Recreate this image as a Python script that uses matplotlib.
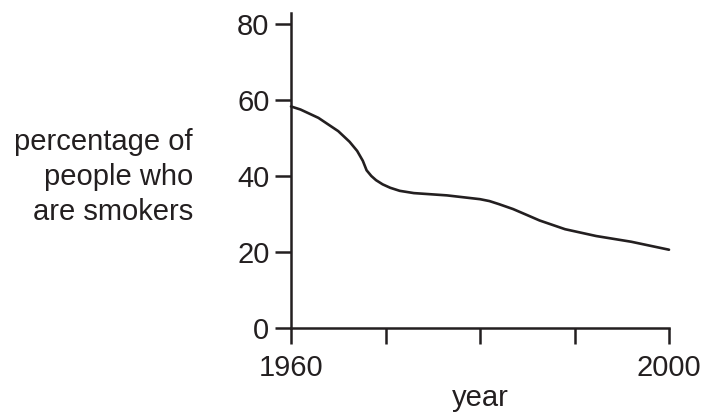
import matplotlib
matplotlib.use("Agg")
import matplotlib.pyplot as plt

years = [1960, 1961, 1962.9, 1965, 1966.2, 1967, 1967.6, 1968, 1968.5, 1969, 1969.7, 1970.5, 1971.5,
         1973, 1976.5, 1980, 1981, 1982, 1983.5, 1985, 1986.3, 1989, 1992.3, 1996, 2000]
values = [58.3, 57.5, 55.3, 51.8, 49.0, 46.6, 44.0, 41.5, 40.0, 38.9, 37.8, 36.9, 36.1,
          35.5, 34.9, 33.9, 33.4, 32.6, 31.3, 29.7, 28.3, 26.0, 24.2, 22.7, 20.6]
xticks = [1960, 1970, 1980, 1990, 2000]
xticklabels = ["1960", "", "", "", "2000"]
yticks = [0, 20, 40, 60, 80]
ylabel = "percentage of\npeople who\nare smokers"
xlabel = "year"

plt.rcParams['font.family'] = ['Liberation Sans', 'DejaVu Sans']
ink = '#231f20'

fig = plt.figure(figsize=(7.03, 4.17), dpi=100)
ax = fig.add_axes([291/703, 1 - 328/417, 378/703, 83*3.8/417])
ax.plot(years, values, color=ink, lw=1.9, solid_capstyle='round', clip_on=False)
ax.set_xlim(1960, 2000)
ax.set_ylim(0, 83)
ax.set_xticks(xticks)
ax.set_xticklabels(xticklabels)
ax.set_yticks(yticks)
for side in ['top', 'right']:
    ax.spines[side].set_visible(False)
for side in ['left', 'bottom']:
    ax.spines[side].set_linewidth(1.8)
    ax.spines[side].set_color(ink)
ax.tick_params(axis='both', length=11.5, width=1.8, color=ink, labelcolor=ink, labelsize=21)
ax.tick_params(axis='y', pad=4)
ax.tick_params(axis='x', pad=7)
ax.set_xlabel(xlabel, fontsize=21, color=ink, labelpad=2)
fig.text(193/703, 1 - 177/417, ylabel, ha='right', va='center', fontsize=21,
         color=ink, linespacing=1.32, multialignment='right')
fig.savefig("out.png", dpi=100)
